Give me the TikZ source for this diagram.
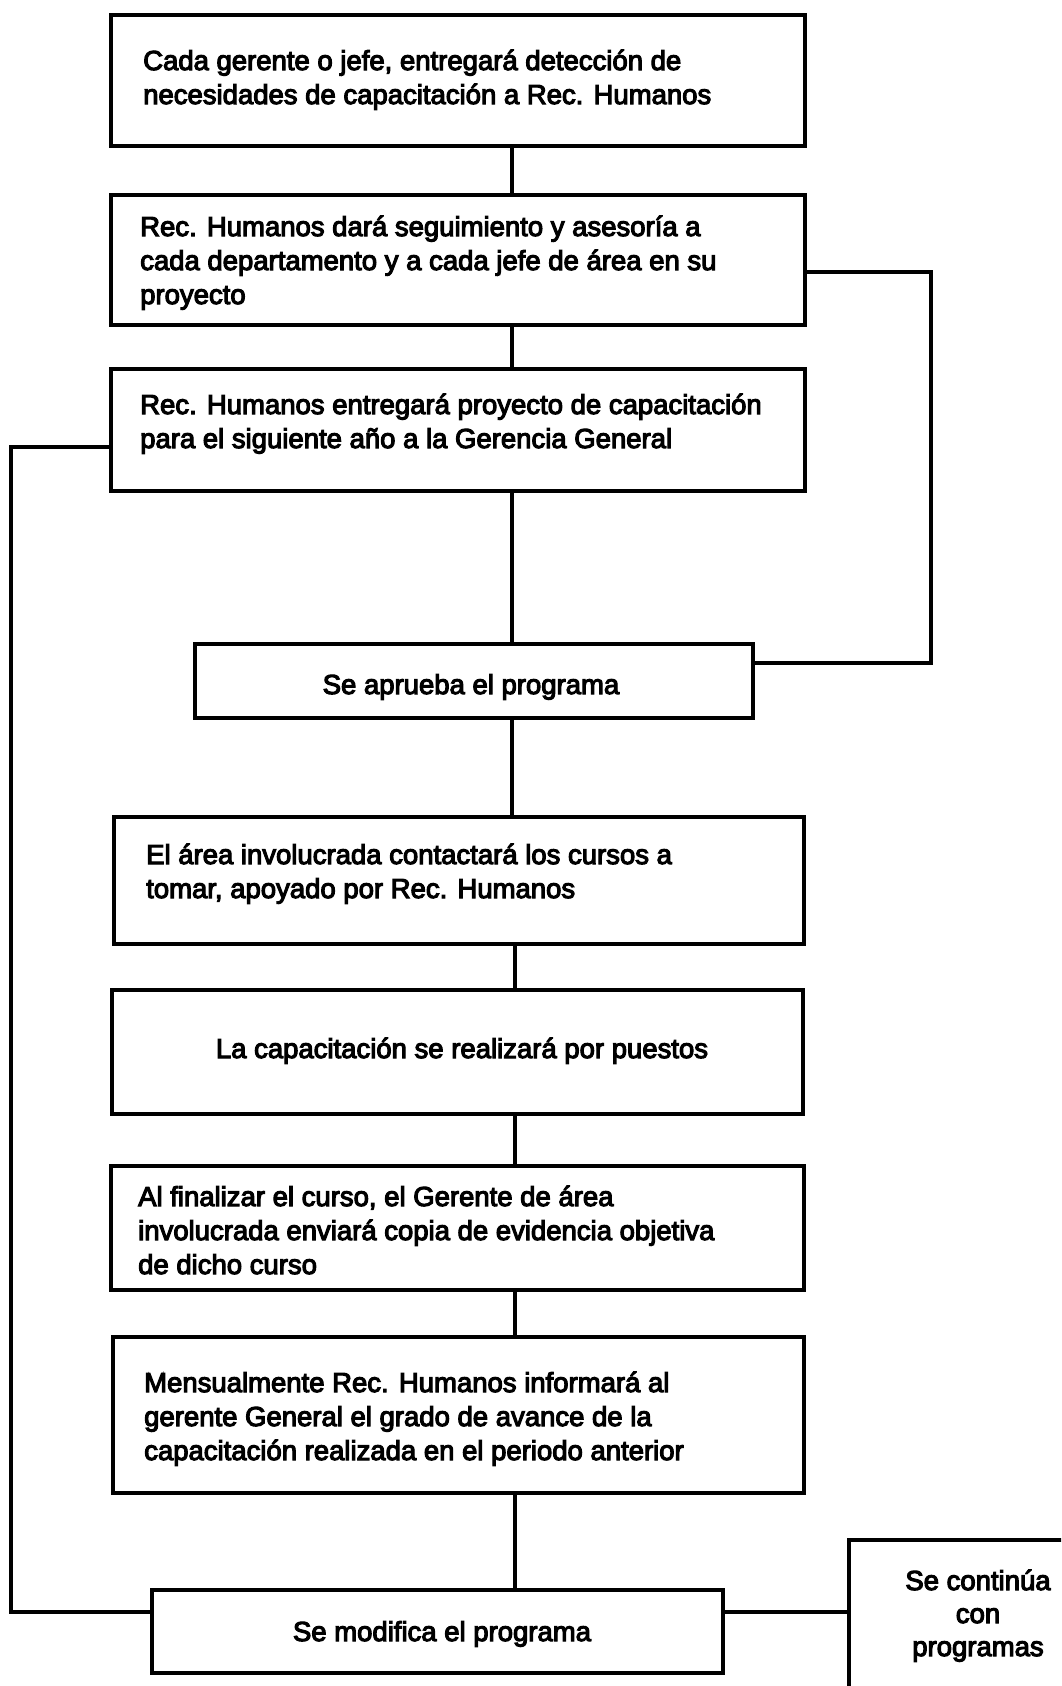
\documentclass[tikz,border=0pt]{standalone}
\usepackage{fontspec}
\newfontfamily\diafont{Liberation Sans}[FakeBold=4]
\usetikzlibrary{fit}
\begin{document}
\begin{tikzpicture}[x=1pt,y=-1pt,
  box/.style={draw, line width=3.5pt, inner sep=0pt, fit={#1}},
  txt/.style={inner sep=0pt, font=\diafont\fontsize{27.5}{34}\selectfont, align=left, anchor=base west},
  ctxt/.style={inner sep=0pt, font=\diafont\fontsize{27.5}{33}\selectfont, align=center, anchor=base},
  conn/.style={line width=3.5pt}]
\clip (0,0) rectangle (1061,1686);
\fill[white] (0,0) rectangle (1061,1686);
% boxes
\node[box={(111,15) (805,146)}] (b1) {};
\node[box={(111,195) (805,325)}] (b2) {};
\node[box={(111,369) (805,491)}] (b3) {};
\node[box={(195,644) (753,718)}] (b4) {};
\node[box={(114,817) (804,944)}] (b5) {};
\node[box={(112,990) (803,1114)}] (b6) {};
\node[box={(111,1166) (804,1290)}] (b7) {};
\node[box={(113,1337) (804,1493)}] (b8) {};
\node[box={(152,1590) (723,1673)}] (b9) {};
\node[box={(849,1540) (1130,1730)}] (b10) {};
% texts (anchor = baseline of the last line)
\node[txt] (t1) at (143,104) {Cada gerente o jefe, entregará detección de\\necesidades de capacitación a Rec. Humanos};
\node[txt] (t2) at (140,304) {Rec. Humanos dará seguimiento y asesoría a\\cada departamento y a cada jefe de área en su\\proyecto};
\node[txt] (t3) at (140,448) {Rec. Humanos entregará proyecto de capacitación\\para el siguiente año a la Gerencia General};
\node[ctxt] (t4) at (471,694) {Se aprueba el programa};
\node[txt] (t5) at (146,898) {El área involucrada contactará los cursos a\\tomar, apoyado por Rec. Humanos};
\node[ctxt] (t6) at (462,1058) {La capacitación se realizará por puestos};
\node[txt] (t7) at (138,1274) {Al finalizar el curso, el Gerente de área\\involucrada enviará copia de evidencia objetiva\\de dicho curso};
\node[txt] (t8) at (144,1460) {Mensualmente Rec. Humanos informará al\\gerente General el grado de avance de la\\capacitación realizada en el periodo anterior};
\node[ctxt] (t9) at (442,1641) {Se modifica el programa};
\node[ctxt] (t10) at (978,1656) {Se continúa\\con\\programas};
% connectors
\coordinate (cx1) at (512,0);
\coordinate (cx2) at (515,0);
\draw[conn] (b1.south -| cx1) -- (b2.north -| cx1);
\draw[conn] (b2.south -| cx1) -- (b3.north -| cx1);
\draw[conn] (b3.south -| cx1) -- (b4.north -| cx1);
\draw[conn] (b4.south -| cx1) -- (b5.north -| cx1);
\draw[conn] (b5.south -| cx2) -- (b6.north -| cx2);
\draw[conn] (b6.south -| cx2) -- (b7.north -| cx2);
\draw[conn] (b7.south -| cx2) -- (b8.north -| cx2);
\draw[conn] (b8.south -| cx2) -- (b9.north -| cx2);
\coordinate (r1) at (931,272);
\coordinate (r2) at (931,663);
\draw[conn] (b2.east |- r1) -- (r1) -- (r2) -- (b4.east |- r2);
\coordinate (l1) at (11,447);
\coordinate (l2) at (11,1612);
\draw[conn] (b3.west |- l1) -- (l1) -- (l2) -- (b9.west |- l2);
\draw[conn] (b9.east |- l2) -- (b10.west |- l2);
\end{tikzpicture}
\end{document}
